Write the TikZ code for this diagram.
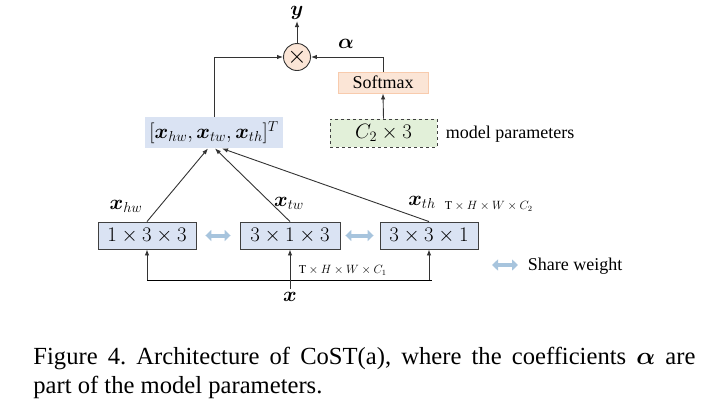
\documentclass[tikz,border=0pt]{standalone}
\usepackage{fontspec}
\setmainfont{Liberation Serif}
\usepackage{bm}
\usetikzlibrary{arrows.meta}
\definecolor{boxblue}{HTML}{DAE3F3}
\definecolor{softfill}{HTML}{FBE5D6}
\definecolor{softline}{HTML}{F8CBAD}
\definecolor{parfill}{HTML}{E2F0D9}
\definecolor{sharecol}{HTML}{A7C4DD}
\frenchspacing

\begin{document}
\begin{tikzpicture}[x=1pt, y=-1pt, line width=0.9pt,
	arr/.style={draw=black!80, -{Latex[length=6pt,width=4.5pt]}},
	conv/.style={draw=black!75, fill=boxblue, minimum width=98pt, minimum height=27pt, inner sep=0pt, font=\fontsize{22}{24}\selectfont},
	share/.style={draw=sharecol, line width=4pt, {Triangle[length=6pt,width=11pt]}-{Triangle[length=6pt,width=11pt]}},
	lbl/.style={font=\fontsize{20}{22}\selectfont},
	txt/.style={font=\fontsize{18}{20}\selectfont},
	tiny/.style={font=\fontsize{12}{14}\selectfont, anchor=west}]
	\useasboundingbox (0,0) rectangle (720,413);

	\node[conv] (k1) at (147,235.5) {$1\times3\times3$};
	\node[conv, minimum width=100pt] (k2) at (290,235.5) {$3\times1\times3$};
	\node[conv] (k3) at (429,235.5) {$3\times3\times1$};
	\node[lbl, fill=boxblue, minimum width=138pt, minimum height=31pt, inner sep=0pt] (cat) at (214,132.5) {$[\bm{x}_{hw},\bm{x}_{tw},\bm{x}_{th}]^T$};
	\node[draw=black!80, fill=softfill, circle, minimum size=27pt, inner sep=0pt, font=\fontsize{28}{28}\selectfont] (mul) at (297,57) {$\times$};
	\node[txt, draw=softline, fill=softfill, minimum width=90pt, minimum height=21pt, inner sep=0pt] (soft) at (383,82.5) {Softmax};
	\node[lbl, draw=black!75, dashed, fill=parfill, minimum width=107pt, minimum height=28pt, inner sep=0pt] (par) at (383.5,133) {$C_2\times 3$};
	\node[txt, anchor=west] (partxt) at (442,134) {model parameters};

	\node[lbl, inner sep=1pt] (y) at (297,13) {$\bm{y}$};
	\node[lbl] (al) at (346,44) {$\bm{\alpha}$};
	\node[lbl] (xhw) at (126,206) {$\bm{x}_{hw}$};
	\node[lbl] (xtw) at (289,203) {$\bm{x}_{tw}$};
	\node[lbl] (xth) at (422,202) {$\bm{x}_{th}$};
	\node[tiny] (d2) at (441,206) {$\mathrm{T}\times H\times W\times C_2$};
	\node[tiny] (d1) at (295,270) {$\mathrm{T}\times H\times W\times C_1$};
	\node[lbl] (xin) at (290,297) {$\bm{x}$};
	\node[txt, anchor=west] (sw) at (524,266) {Share weight};

	\draw[arr] (mul.north) -- (y.south);
	\draw[arr] (cat.north) |- (mul.west);
	\draw[arr] (soft.north) |- (mul.east);
	\draw[arr] (par.north) -- (soft.south);

	\draw[arr] (k1.north) -- ([xshift=-6pt]cat.south);
	\draw[arr] (k2.north) -- ([xshift=1pt]cat.south);
	\draw[arr] (k3.north) -- ([xshift=8pt]cat.south);

	\coordinate (bus) at (290,280);
	\draw (k1.south |- bus) -- ([xshift=3pt]bus -| k3.south);
	\draw[arr] (k1.south |- bus) -- (k1.south);
	\draw[arr] (k3.south |- bus) -- (k3.south);
	\draw[arr] (xin.north) -- (k2.south);

	\draw[share, shorten <=9pt, shorten >=9pt] (k1.east) -- (k2.west);
	\draw[share, shorten <=5pt, shorten >=6pt] (k2.east) -- (k3.west);
	\coordinate (lga) at (492,265);
	\coordinate (lgb) at (518,265);
	\draw[share] (lga) -- (lgb);

	\node[anchor=base west, inner sep=0pt, font=\fontsize{24.6}{30}\selectfont] (cap1) at (33,364) {\makebox[662pt][s]{Figure 4. Architecture of CoST(a), where the coefficients $\bm{\alpha}$ are}};
	\node[anchor=base west, inner sep=0pt, font=\fontsize{24.6}{30}\selectfont] (cap2) at (33,393) {part of the model parameters.};
\end{tikzpicture}
\end{document}
